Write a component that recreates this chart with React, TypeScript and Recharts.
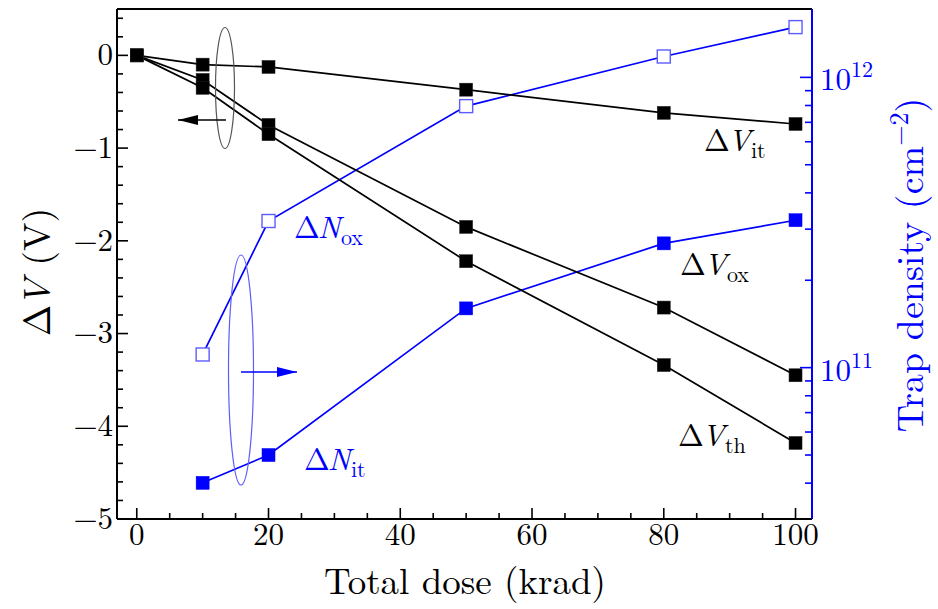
import React from 'react';
import { LineChart, Line, XAxis, YAxis, ReferenceLine } from 'recharts';

const doses = [0, 10, 20, 50, 80, 100];
const dVit = [0, -0.1, -0.125, -0.37, -0.62, -0.74];
const dVox = [0, -0.265, -0.75, -1.85, -2.72, -3.45];
const dVth = [0, -0.35, -0.85, -2.22, -3.34, -4.18];
const dNox = [null, 1.11e11, 3.2e11, 7.96e11, 1.18e12, 1.49e12];
const dNit = [null, 4.01e10, 5.0e10, 1.6e11, 2.68e11, 3.22e11];

const xTicks = [0, 5, 10, 15, 20, 25, 30, 35, 40, 45, 50, 55, 60, 65, 70, 75, 80, 85, 90, 95, 100];
const leftTicks = [
  -5, -4.8, -4.6, -4.4, -4.2, -4, -3.8, -3.6, -3.4, -3.2, -3, -2.8, -2.6, -2.4, -2.2,
  -2, -1.8, -1.6, -1.4, -1.2, -1, -0.8, -0.6, -0.4, -0.2, 0, 0.2, 0.4,
];
const rightTicks = [
  4e10, 5e10, 6e10, 7e10, 8e10, 9e10, 1e11, 2e11, 3e11, 4e11, 5e11, 6e11, 7e11, 8e11, 9e11, 1e12,
];

const data = doses.map((d, i) => ({
  dose: d,
  vit: dVit[i],
  vox: dVox[i],
  vth: dVth[i],
  nox: dNox[i],
  nit: dNit[i],
}));

const FONT = '"Latin Modern Roman"';
const BLUE = '#0000ff';
const fs = (size: number, extra: any = {}) => ({ fontFamily: FONT, fontSize: size, ...extra });

const fmtMinus = (v: number) => (v < 0 ? '\u2212' + Math.abs(v) : String(v));

const LeftTick = (props: any) => {
  const { x, y, payload } = props;
  const v = payload.value as number;
  const major = Math.abs(v - Math.round(v)) < 1e-6;
  return (
    <g>
      <line x1={x} x2={x + (major ? 11 : 6)} y1={y} y2={y} stroke="#000" strokeWidth={1.6} />
      {major && (
        <text x={x - 4} y={y} dy="0.32em" textAnchor="end" style={fs(31)} fill="#000">
          {fmtMinus(v)}
        </text>
      )}
    </g>
  );
};

const BottomTick = (props: any) => {
  const { x, y, payload } = props;
  const v = payload.value as number;
  const major = v % 20 === 0;
  return (
    <g>
      <line x1={x} x2={x} y1={y} y2={y - (major ? 11 : 6)} stroke="#000" strokeWidth={1.6} />
      {major && (
        <text x={x} y={y + 26} textAnchor="middle" style={fs(31)} fill="#000">
          {String(v)}
        </text>
      )}
    </g>
  );
};

const RightTick = (props: any) => {
  const { x, y, payload } = props;
  const v = payload.value as number;
  const e = Math.round(Math.log10(v));
  const major = Math.abs(v - Math.pow(10, e)) / v < 1e-6;
  return (
    <g>
      <line x1={x} x2={x - (major ? 12 : 7)} y1={y} y2={y} stroke={BLUE} strokeWidth={1.6} />
      {major && (
        <text x={x + 8} y={y + 13} style={fs(31)} fill={BLUE}>
          10
          <tspan style={fs(22)} dy={-13}>
            {String(e)}
          </tspan>
        </text>
      )}
    </g>
  );
};

const makeSquare = (fill: string, stroke: string, sw: number) => (p: any) => {
  const { cx, cy, index, value } = p;
  if (cx == null || cy == null || value == null || (Array.isArray(value) && value[1] == null)) {
    return <g key={'e' + index} />;
  }
  const s = 13;
  return (
    <rect
      key={'r' + index}
      x={cx - s / 2}
      y={cy - s / 2}
      width={s}
      height={s}
      fill={fill}
      stroke={stroke}
      strokeWidth={sw}
    />
  );
};

const Sym = ({ x, y, sym, sub, color }: { x: number; y: number; sym: string; sub: string; color: string }) => (
  <text x={x} y={y} style={fs(31)} fill={color}>
    <tspan>{'\u0394'}</tspan>
    <tspan dx={-2} style={fs(31, { fontStyle: 'italic' })}>
      {sym}
    </tspan>
    <tspan style={fs(22)} dy={7} dx={0}>
      {sub}
    </tspan>
  </text>
);

export default function App() {
  return (
    <div style={{ position: 'absolute', left: 0, top: 0, width: 938, height: 609, background: '#fff' }}>
      <LineChart
        width={938}
        height={609}
        data={data}
        margin={{ top: 9, right: 66, bottom: 50, left: 57 }}
      >
        <XAxis
          xAxisId="bottom"
          dataKey="dose"
          type="number"
          domain={[-3, 102.5]}
          allowDataOverflow
          ticks={xTicks}
          interval={0}
          tick={<BottomTick />}
          tickSize={0}
          tickMargin={0}
          tickLine={false}
          axisLine={{ stroke: '#000', strokeWidth: 2 }}
          height={40}
        />
        <YAxis
          yAxisId="left"
          type="number"
          domain={[-5, 0.5]}
          allowDataOverflow
          ticks={leftTicks}
          interval={0}
          tick={<LeftTick />}
          tickSize={0}
          tickMargin={0}
          tickLine={false}
          axisLine={{ stroke: '#000', strokeWidth: 2 }}
          width={60}
        />
        <YAxis
          yAxisId="right"
          orientation="right"
          type="number"
          scale="log"
          domain={[3.01e10, 1.72e12]}
          allowDataOverflow
          ticks={rightTicks}
          interval={0}
          tick={<RightTick />}
          tickSize={0}
          tickMargin={0}
          tickLine={false}
          axisLine={{ stroke: BLUE, strokeWidth: 2 }}
          width={60}
        />
        <ReferenceLine xAxisId="bottom" yAxisId="left" y={0.5} stroke="#000" strokeWidth={2} ifOverflow="extendDomain" />
        <Line
          xAxisId="bottom"
          yAxisId="right"
          dataKey="nox"
          stroke={BLUE}
          strokeWidth={1.7}
          dot={makeSquare('#ffffff', '#5c5cff', 1.4)}
          isAnimationActive={false}
        />
        <Line
          xAxisId="bottom"
          yAxisId="right"
          dataKey="nit"
          stroke={BLUE}
          strokeWidth={1.7}
          dot={makeSquare(BLUE, BLUE, 0.5)}
          isAnimationActive={false}
        />
        <Line
          xAxisId="bottom"
          yAxisId="left"
          dataKey="vit"
          stroke="#000"
          strokeWidth={1.7}
          dot={makeSquare('#000', '#222', 0.5)}
          isAnimationActive={false}
        />
        <Line
          xAxisId="bottom"
          yAxisId="left"
          dataKey="vox"
          stroke="#000"
          strokeWidth={1.7}
          dot={makeSquare('#000', '#222', 0.5)}
          isAnimationActive={false}
        />
        <Line
          xAxisId="bottom"
          yAxisId="left"
          dataKey="vth"
          stroke="#000"
          strokeWidth={1.7}
          dot={makeSquare('#000', '#222', 0.5)}
          isAnimationActive={false}
        />
      </LineChart>
      <svg
        width={938}
        height={609}
        style={{ position: 'absolute', left: 0, top: 0, pointerEvents: 'none' }}
      >
        <defs>
          <marker id="ahK" markerWidth="20" markerHeight="12" refX="20" refY="6" orient="auto" markerUnits="userSpaceOnUse">
            <path d="M0,1 L20,6 L0,11 Z" fill="#000" />
          </marker>
          <marker id="ahB" markerWidth="20" markerHeight="12" refX="20" refY="6" orient="auto" markerUnits="userSpaceOnUse">
            <path d="M0,1 L20,6 L0,11 Z" fill={BLUE} />
          </marker>
        </defs>
        <ellipse cx={225} cy={88} rx={9.5} ry={60.5} fill="none" stroke="#555" strokeWidth={1.2} />
        <line x1={226} y1={120} x2={178} y2={120} stroke="#000" strokeWidth={1.6} markerEnd="url(#ahK)" />
        <ellipse cx={241} cy={370} rx={12.5} ry={115} fill="none" stroke="#5c5cff" strokeWidth={1.2} />
        <line x1={241} y1={372} x2={297} y2={372} stroke={BLUE} strokeWidth={1.6} markerEnd="url(#ahB)" />

        <Sym x={704} y={151} sym="V" sub="it" color="#000" />
        <Sym x={680} y={275} sym="V" sub="ox" color="#000" />
        <Sym x={678} y={446} sym="V" sub="th" color="#000" />
        <Sym x={294} y={238} sym="N" sub="ox" color={BLUE} />
        <Sym x={304} y={470} sym="N" sub="it" color={BLUE} />

        <text x={465} y={594} textAnchor="middle" style={fs(37)} fill="#000">
          Total dose (krad)
        </text>
        <text transform="translate(50,272) rotate(-90)" textAnchor="middle" style={fs(38)} fill="#000">
          <tspan>{'\u0394'}</tspan>
          <tspan dx={-2} style={fs(38, { fontStyle: 'italic' })}>V</tspan>
          <tspan> (V)</tspan>
        </text>
        <text transform="translate(923,265) rotate(-90)" textAnchor="middle" style={fs(38)} fill={BLUE}>
          <tspan>Trap density (cm</tspan>
          <tspan style={fs(26)} dy={-15}>{'\u2212'}2</tspan>
          <tspan dy={15}>)</tspan>
        </text>
      </svg>
    </div>
  );
}
